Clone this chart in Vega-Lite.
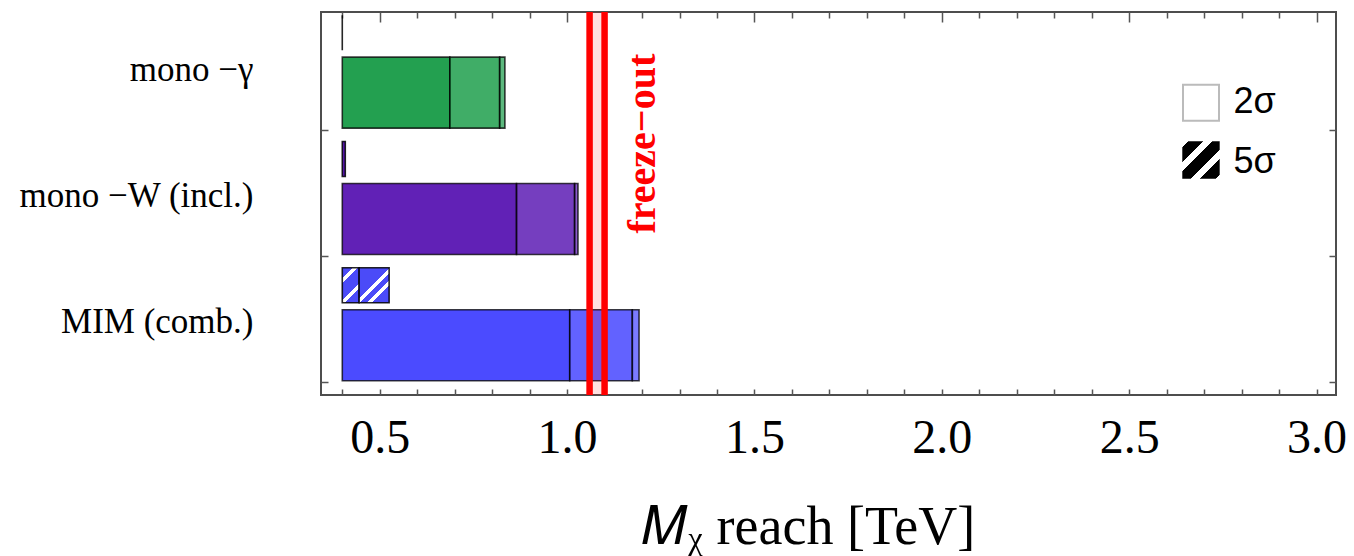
{
  "$schema": "https://vega.github.io/schema/vega-lite/v6.json",
  "width": 1015,
  "height": 383,
  "autosize": {"type": "none"},
  "padding": {"left": 321, "top": 12, "right": 18, "bottom": 161},
  "background": "white",
  "config": {
    "view": {"stroke": "#4d4d4d", "strokeWidth": 2},
    "font": "Liberation Serif"
  },
  "datasets": {
    "reach": [
      {"channel": "mono −γ", "sigma": "2σ", "scenario": "1", "lo": 0.4, "hi": 0.687},
      {"channel": "mono −γ", "sigma": "2σ", "scenario": "2", "lo": 0.687, "hi": 0.82},
      {"channel": "mono −γ", "sigma": "2σ", "scenario": "3", "lo": 0.82, "hi": 0.834},
      {"channel": "mono −W (incl.)", "sigma": "2σ", "scenario": "1", "lo": 0.4, "hi": 0.865},
      {"channel": "mono −W (incl.)", "sigma": "2σ", "scenario": "2", "lo": 0.865, "hi": 1.02},
      {"channel": "mono −W (incl.)", "sigma": "2σ", "scenario": "3", "lo": 1.02, "hi": 1.029},
      {"channel": "MIM (comb.)", "sigma": "2σ", "scenario": "1", "lo": 0.4, "hi": 1.007},
      {"channel": "MIM (comb.)", "sigma": "2σ", "scenario": "2", "lo": 1.007, "hi": 1.174},
      {"channel": "MIM (comb.)", "sigma": "2σ", "scenario": "3", "lo": 1.174, "hi": 1.192},
      {"channel": "mono −γ", "sigma": "5σ", "scenario": "1", "lo": 0.4, "hi": 0.4},
      {"channel": "mono −W (incl.)", "sigma": "5σ", "scenario": "1", "lo": 0.4, "hi": 0.408},
      {"channel": "MIM (comb.)", "sigma": "5σ", "scenario": "1", "lo": 0.4, "hi": 0.445},
      {"channel": "MIM (comb.)", "sigma": "5σ", "scenario": "2", "lo": 0.445, "hi": 0.525}
    ],
    "freeze": [{"lo": 1.06, "hi": 1.10}],
    "legend2": [{"key": "2σ"}],
    "legend5": [{"key": "5σ"}]
  },
  "resolve": {"axis": {"x": "independent", "y": "independent"}},
  "layer": [
    {
      "data": {"name": "reach"},
      "transform": [{"filter": "datum.sigma === '2σ'"}],
      "mark": {"type": "bar", "height": 71, "yOffset": 21, "stroke": "#000", "strokeOpacity": 0.75, "strokeWidth": 1.6},
      "encoding": {
        "x": {
          "field": "lo", "type": "quantitative",
          "scale": {"domain": [0.3432, 3.052], "nice": false, "zero": false},
          "axis": {
            "orient": "bottom", "values": [0.5, 1.0, 1.5, 2.0, 2.5, 3.0], "format": ".1f",
            "ticks": false, "tickSize": 0, "domain": false, "grid": false,
            "labelFont": "Liberation Serif", "labelFontSize": 48, "labelColor": "black",
            "labelPadding": 19.5, "labelFlush": false, "labelOverlap": false,
            "title": "𝑀ᵪ reach [TeV]", "titleFont": "Liberation Serif", "titleFontSize": 54,
            "titleFontWeight": "normal", "titleColor": "black",
            "titleX": 487, "titleY": 148, "titleAlign": "center", "titleBaseline": "alphabetic"
          }
        },
        "x2": {"field": "hi"},
        "y": {
          "field": "channel", "type": "nominal", "sort": null,
          "scale": {
            "type": "band",
            "domain": ["mono −γ", "mono −W (incl.)", "MIM (comb.)"],
            "range": [-3.5, 375.4], "paddingInner": 0, "paddingOuter": 0
          },
          "axis": {
            "orient": "left", "ticks": false, "tickSize": 0, "domain": false, "grid": false,
            "labelFont": "Liberation Serif", "labelFontSize": 35, "labelColor": "black",
            "labelPadding": 68, "labelLimit": 400, "labelOffset": -2, "title": null
          }
        },
        "color": {
          "field": "channel", "type": "nominal",
          "scale": {"domain": ["mono −γ", "mono −W (incl.)", "MIM (comb.)"], "range": ["#029236", "#4900AB", "#3030FF"]},
          "legend": null
        },
        "fillOpacity": {
          "field": "scenario", "type": "nominal",
          "scale": {"domain": ["1", "2", "3"], "range": [0.87, 0.64, 0.38]},
          "legend": null
        }
      }
    },
    {
      "data": {"name": "reach"},
      "transform": [{"filter": "datum.sigma === '5σ' && datum.channel !== 'MIM (comb.)'"}],
      "mark": {"type": "bar", "height": 35, "yOffset": -39, "fillOpacity": 0.9, "stroke": "#000", "strokeOpacity": 0.85, "strokeWidth": 1.6},
      "encoding": {
        "x": {
          "field": "lo", "type": "quantitative",
          "axis": {
            "orient": "bottom", "values": [0.4, 0.5, 0.6, 0.7, 0.8, 0.9, 1.0, 1.1, 1.2, 1.3, 1.4, 1.5, 1.6, 1.7, 1.8, 1.9, 2.0, 2.1, 2.2, 2.3, 2.4, 2.5, 2.6, 2.7, 2.8, 2.9, 3.0],
            "labels": false, "domain": false, "grid": false, "title": null,
            "tickSize": -6, "tickColor": "#555", "tickWidth": 1.5
          }
        },
        "x2": {"field": "hi"},
        "y": {
          "field": "channel", "type": "nominal", "sort": null,
          "axis": {
            "orient": "left", "labels": false, "domain": false, "grid": false, "title": null,
            "tickSize": -7, "tickColor": "#555", "tickWidth": 1.5, "bandPosition": 0.965
          }
        },
        "color": {"field": "channel", "type": "nominal", "legend": null}
      }
    },
    {
      "data": {"name": "reach"},
      "transform": [{"filter": "datum.sigma === '5σ' && datum.channel === 'MIM (comb.)' && datum.scenario === '1'"}],
      "mark": {
        "type": "bar", "height": 35, "yOffset": -39, "stroke": "#000", "strokeOpacity": 0.85, "strokeWidth": 1.6,
        "fill": {
          "gradient": "linear", "x1": 0, "y1": 0, "x2": 0.581, "y2": 1.203,
          "stops": [
            {"offset": 0, "color": "#4b4bf8"}, {"offset": 0.21, "color": "#4b4bf8"},
            {"offset": 0.21, "color": "#ffffff"}, {"offset": 0.30, "color": "#ffffff"},
            {"offset": 0.30, "color": "#4b4bf8"}, {"offset": 0.63, "color": "#4b4bf8"},
            {"offset": 0.63, "color": "#ffffff"}, {"offset": 0.725, "color": "#ffffff"},
            {"offset": 0.725, "color": "#4b4bf8"}, {"offset": 1, "color": "#4b4bf8"}
          ]
        }
      },
      "encoding": {
        "x": {
          "field": "lo", "type": "quantitative",
          "axis": {
            "orient": "top", "values": [0.4, 0.5, 0.6, 0.7, 0.8, 0.9, 1.0, 1.1, 1.2, 1.3, 1.4, 1.5, 1.6, 1.7, 1.8, 1.9, 2.0, 2.1, 2.2, 2.3, 2.4, 2.5, 2.6, 2.7, 2.8, 2.9, 3.0],
            "labels": false, "domain": false, "grid": false, "title": null,
            "tickSize": {"condition": {"test": "abs(datum.value * 2 - round(datum.value * 2)) < 0.001", "value": -10}, "value": -6},
            "tickColor": "#555", "tickWidth": 1.5
          }
        },
        "x2": {"field": "hi"},
        "y": {
          "field": "channel", "type": "nominal", "sort": null,
          "axis": {
            "orient": "right", "labels": false, "domain": false, "grid": false, "title": null,
            "tickSize": -7, "tickColor": "#555", "tickWidth": 1.5, "bandPosition": 0.965
          }
        }
      }
    },
    {
      "data": {"name": "reach"},
      "transform": [{"filter": "datum.sigma === '5σ' && datum.channel === 'MIM (comb.)' && datum.scenario === '2'"}],
      "mark": {
        "type": "bar", "height": 35, "yOffset": -39, "stroke": "#000", "strokeOpacity": 0.85, "strokeWidth": 1.6,
        "fill": {
          "gradient": "linear", "x1": 0, "y1": 0, "x2": 0.918, "y2": 1.071,
          "stops": [
            {"offset": 0, "color": "#4b4bf8"}, {"offset": 0.465, "color": "#4b4bf8"},
            {"offset": 0.465, "color": "#ffffff"}, {"offset": 0.55, "color": "#ffffff"},
            {"offset": 0.55, "color": "#4b4bf8"}, {"offset": 0.655, "color": "#4b4bf8"},
            {"offset": 0.655, "color": "#ffffff"}, {"offset": 0.735, "color": "#ffffff"},
            {"offset": 0.735, "color": "#4b4bf8"}, {"offset": 1, "color": "#4b4bf8"}
          ]
        }
      },
      "encoding": {
        "x": {"field": "lo", "type": "quantitative", "axis": null},
        "x2": {"field": "hi"},
        "y": {"field": "channel", "type": "nominal", "sort": null, "axis": null}
      }
    },
    {
      "data": {"name": "freeze"},
      "mark": {"type": "rect", "color": "#ff0000", "opacity": 0.12},
      "encoding": {
        "x": {"field": "lo", "type": "quantitative", "axis": null},
        "x2": {"field": "hi"}
      }
    },
    {
      "data": {"name": "freeze"},
      "mark": {"type": "rule", "color": "#ff0000", "strokeWidth": 6.5},
      "encoding": {"x": {"field": "lo", "type": "quantitative", "axis": null}}
    },
    {
      "data": {"name": "freeze"},
      "mark": {"type": "rule", "color": "#ff0000", "strokeWidth": 6.5},
      "encoding": {"x": {"field": "hi", "type": "quantitative", "axis": null}}
    },
    {
      "data": {"name": "freeze"},
      "mark": {
        "type": "text", "text": "freeze−out", "angle": 270, "align": "center", "baseline": "alphabetic",
        "font": "Liberation Serif", "fontWeight": "bold", "fontSize": 40, "color": "#ff0000", "yOffset": 72
      },
      "encoding": {
        "x": {"datum": 1.2345, "type": "quantitative", "axis": null},
        "y": {"datum": "mono −γ", "type": "nominal", "axis": null}
      }
    },
    {
      "data": {"name": "legend2"},
      "mark": {"type": "point", "shape": "square", "size": 1296, "filled": true, "fill": "#ffffff", "stroke": "#bbbbbb", "strokeWidth": 2, "opacity": 1, "yOffset": 31},
      "encoding": {
        "x": {"datum": 2.6917, "type": "quantitative", "axis": null},
        "y": {"datum": "mono −γ", "type": "nominal", "axis": null}
      }
    },
    {
      "data": {"name": "legend2"},
      "mark": {"type": "text", "align": "left", "baseline": "middle", "font": "Liberation Sans", "fontSize": 36, "color": "#000", "yOffset": 30},
      "encoding": {
        "x": {"datum": 2.7782, "type": "quantitative", "axis": null},
        "y": {"datum": "mono −γ", "type": "nominal", "axis": null},
        "text": {"field": "key"}
      }
    },
    {
      "data": {"name": "legend5"},
      "mark": {
        "type": "point", "shape": "square", "size": 1400, "filled": true, "opacity": 1, "strokeWidth": 0, "yOffset": -38,
        "fill": {
          "gradient": "linear", "x1": 0, "y1": 0, "x2": 1, "y2": 1,
          "stops": [
            {"offset": 0, "color": "#ffffff"}, {"offset": 0.08, "color": "#ffffff"},
            {"offset": 0.08, "color": "#000000"}, {"offset": 0.28, "color": "#000000"},
            {"offset": 0.28, "color": "#ffffff"}, {"offset": 0.4, "color": "#ffffff"},
            {"offset": 0.4, "color": "#000000"}, {"offset": 0.62, "color": "#000000"},
            {"offset": 0.62, "color": "#ffffff"}, {"offset": 0.74, "color": "#ffffff"},
            {"offset": 0.74, "color": "#000000"}, {"offset": 0.95, "color": "#000000"},
            {"offset": 0.95, "color": "#ffffff"}, {"offset": 1, "color": "#ffffff"}
          ]
        }
      },
      "encoding": {
        "x": {"datum": 2.6917, "type": "quantitative", "axis": null},
        "y": {"datum": "mono −W (incl.)", "type": "nominal", "axis": null}
      }
    },
    {
      "data": {"name": "legend5"},
      "mark": {"type": "text", "align": "left", "baseline": "middle", "font": "Liberation Sans", "fontSize": 36, "color": "#000", "yOffset": -36},
      "encoding": {
        "x": {"datum": 2.7782, "type": "quantitative", "axis": null},
        "y": {"datum": "mono −W (incl.)", "type": "nominal", "axis": null},
        "text": {"field": "key"}
      }
    }
  ]
}
